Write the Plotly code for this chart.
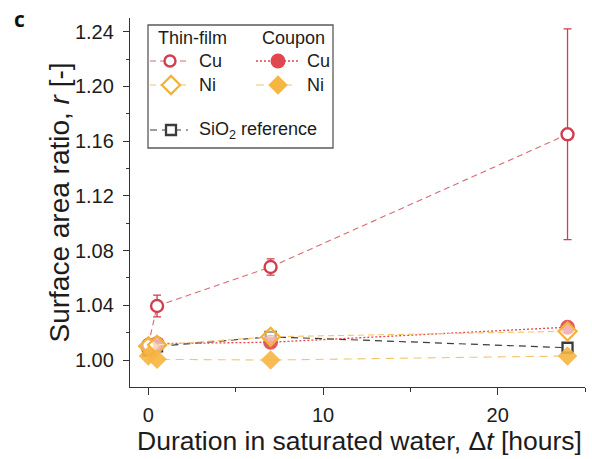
import plotly.graph_objects as go

# ---------------- data ----------------
time_h = [0, 0.5, 7, 24]
tf_cu = [1.011, 1.0395, 1.068, 1.165]
tf_cu_err = [0.002, 0.008, 0.006, 0.077]
cp_cu = [1.009, 1.012, 1.013, 1.024]
tf_ni = [1.010, 1.011, 1.017, 1.021]
cp_ni = [1.003, 1.0005, 1.000, 1.003]
sio2 = [1.007, 1.010, 1.017, 1.009]

y_ticks = [1.00, 1.04, 1.08, 1.12, 1.16, 1.20, 1.24]
y_ticklabels = ["1.00", "1.04", "1.08", "1.12", "1.16", "1.20", "1.24"]
x_ticks = [0, 10, 20]
x_ticklabels = ["0", "10", "20"]

# ---------------- style ----------------
W, H = 592, 459
ML, MR, MT, MB = 130, 7, 18, 72
RED_O = "#cf3f4e"
RED_F = "#e0474e"
RED_L = "#d86a74"
NI_O = "#f2b23a"
NI_F = "#f7b541"
NI_L = "#f5c468"
GREY = "#3c3c3c"
FONT = "Liberation Sans, Arial, sans-serif"
TXT = "#1c1c1c"

PW, PH = W - ML - MR, H - MT - MB


def pxx(x):
    return (x - ML) / PW


def pxy(y):
    return (H - MB - y) / PH


fig = go.Figure()

series = [
    dict(y=sio2, line=dict(color=GREY, dash="7px,5px", width=1.2),
         marker=dict(symbol="square", size=10, color="rgba(255,255,255,0.7)",
                     line=dict(color=GREY, width=2.3))),
    dict(y=cp_cu, line=dict(color=RED_F, dash="2px,2px", width=1.3),
         marker=dict(symbol="circle", size=15, color=RED_F, opacity=0.9,
                     line=dict(color=RED_F, width=0))),
    dict(y=tf_cu, line=dict(color=RED_L, dash="6px,4px", width=1.1),
         marker=dict(symbol="circle", size=12, color="white",
                     line=dict(color=RED_O, width=2.4)),
         error_y=dict(type="data", array=tf_cu_err, color=RED_O, thickness=1.3, width=4)),
    dict(y=tf_ni, line=dict(color=NI_L, dash="6px,4px", width=1.1),
         marker=dict(symbol="diamond", size=14, color="rgba(255,255,255,0.55)",
                     line=dict(color=NI_O, width=2.2))),
    dict(y=cp_ni, line=dict(color=NI_L, dash="8px,6px", width=1.1),
         marker=dict(symbol="diamond", size=15, color=NI_F, opacity=0.9,
                     line=dict(color=NI_F, width=0))),
]
for s in series:
    fig.add_trace(go.Scatter(x=time_h, y=s["y"], mode="lines+markers",
                             line=s["line"], marker=s["marker"],
                             error_y=s.get("error_y"), showlegend=False,
                             cliponaxis=False, hoverinfo="skip"))

# ---------------- hand-built legend (pixel coordinates on overlay axes) ----------------
leg_rows = [
    # (x_left, x_right, x_marker, y, line, marker)
    (150, 190, 170, 61, dict(color=RED_L, dash="6px,4px", width=1.1),
     dict(symbol="circle", size=11, color="white", line=dict(color=RED_O, width=2.4))),
    (150, 190, 171, 85, dict(color=NI_L, dash="6px,4px", width=1.1),
     dict(symbol="diamond", size=14, color="white", line=dict(color=NI_O, width=2.2))),
    (256, 298, 278, 61, dict(color=RED_F, dash="2px,2px", width=1.3),
     dict(symbol="circle", size=15, color=RED_F, line=dict(width=0))),
    (256, 298, 278, 85, dict(color=NI_L, dash="8px,6px", width=1.1),
     dict(symbol="diamond", size=15, color=NI_F, line=dict(width=0))),
    (150, 188, 171, 130, dict(color=GREY, dash="7px,5px", width=1.2),
     dict(symbol="square", size=10, color="white", line=dict(color=GREY, width=2.3))),
]
for xl, xr, xm, yy, ln, mk in leg_rows:
    fig.add_trace(go.Scatter(x=[xl, xr], y=[yy, yy], mode="lines", line=ln,
                             xaxis="x2", yaxis="y2", showlegend=False, hoverinfo="skip"))
    fig.add_trace(go.Scatter(x=[xm], y=[yy], mode="markers", marker=mk,
                             xaxis="x2", yaxis="y2", showlegend=False, hoverinfo="skip"))

leg_texts = [
    ("Thin-film", 156, 38),
    ("Coupon", 260, 38),
    ("Cu", 197, 61),
    ("Ni", 197, 85),
    ("Cu", 305, 61),
    ("Ni", 305, 85),
    ("SiO<sub>2</sub> reference", 197, 130),
]
annotations = []
for t, x, y in leg_texts:
    annotations.append(dict(text=t, x=x, y=y, xref="x2", yref="y2", xanchor="left",
                            yanchor="middle", showarrow=False,
                            font=dict(family=FONT, size=18, color=TXT)))

annotations += [
    dict(text="c", x=pxx(19), y=pxy(19), xref="paper", yref="paper", xanchor="center",
         yanchor="middle", showarrow=False,
         font=dict(family="Open Sans, Liberation Sans, sans-serif", size=21, color="#111",
                   weight="bold")),
    dict(text="Surface area ratio, <i>r</i> [-]", x=pxx(59), y=pxy(202.5), xref="paper",
         yref="paper", xanchor="center", yanchor="middle", textangle=-90, showarrow=False,
         font=dict(family=FONT, size=28, color=TXT)),
    dict(text="Duration in saturated water, Δ<i>t</i> [hours]", x=pxx(359), y=pxy(441),
         xref="paper", yref="paper", xanchor="center", yanchor="middle", showarrow=False,
         font=dict(family=FONT, size=26.5, color=TXT)),
]

shapes = [dict(type="rect", xref="x2", yref="y2", x0=148, x1=333, y0=25, y1=148,
               line=dict(color="#5a5a5a", width=1.3), fillcolor="rgba(0,0,0,0)", layer="above")]

fig.update_layout(
    width=W, height=H,
    margin=dict(l=ML, r=MR, t=MT, b=MB, pad=0),
    paper_bgcolor="white", plot_bgcolor="white",
    showlegend=False,
    annotations=annotations,
    shapes=shapes,
    xaxis=dict(range=[-1.05, 25], tickvals=x_ticks, ticktext=x_ticklabels,
               ticks="outside", ticklen=7, tickwidth=1.2, tickcolor="#333",
               minor=dict(dtick=5, tick0=0, ticks="outside", ticklen=4, tickwidth=1.2,
                          tickcolor="#333", showgrid=False),
               showline=True, linecolor="#333", linewidth=1.3, showgrid=False,
               zeroline=False, tickfont=dict(family=FONT, size=20, color=TXT),
               ticklabelstandoff=3),
    yaxis=dict(range=[0.9803, 1.25], tickvals=y_ticks, ticktext=y_ticklabels,
               ticks="outside", ticklen=6, tickwidth=1.2, tickcolor="#333",
               minor=dict(dtick=0.02, tick0=1.0, ticks="outside", ticklen=3, tickwidth=1.2,
                          tickcolor="#333", showgrid=False),
               showline=True, linecolor="#333", linewidth=1.3, showgrid=False,
               zeroline=False, tickfont=dict(family=FONT, size=20, color=TXT),
               ticklabelstandoff=5),
    xaxis2=dict(range=[ML, W - MR], overlaying="x", anchor="y2", visible=False,
                fixedrange=True),
    yaxis2=dict(range=[H - MB, MT], overlaying="y", anchor="x2", visible=False,
                fixedrange=True),
)

fig.write_html("out.html")
